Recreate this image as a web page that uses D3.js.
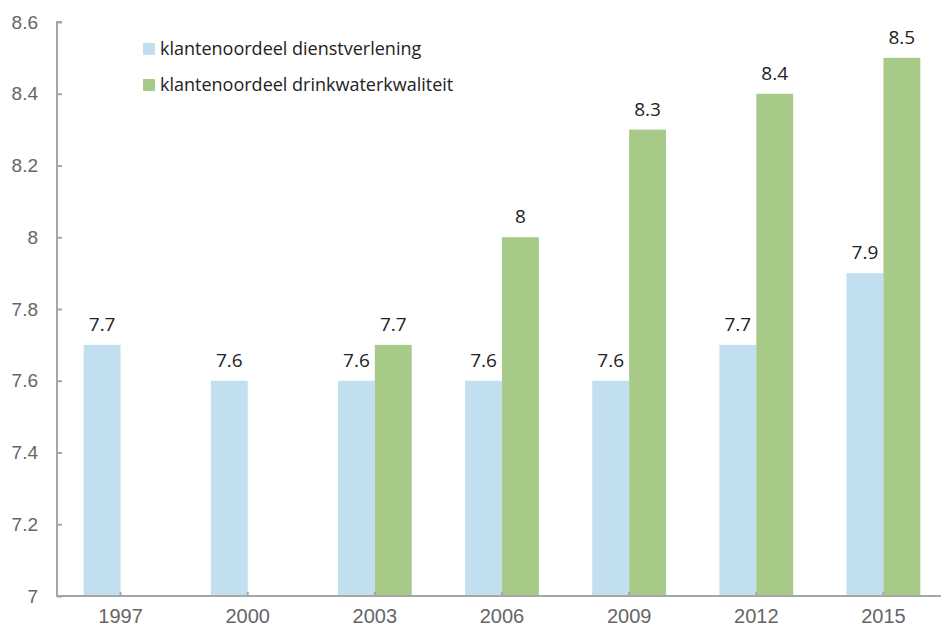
<!DOCTYPE html>
<html>
<head>
<meta charset="utf-8">
<script src="https://cdn.jsdelivr.net/npm/d3@7"></script>
<style>
  body { margin: 0; background: #fff; }
</style>
</head>
<body>
<svg id="viz"></svg>
<script>
const years = ['1997', '2000', '2003', '2006', '2009', '2012', '2015']
const dienstverlening = [7.7, 7.6, 7.6, 7.6, 7.6, 7.7, 7.9]
const drinkwater = [null, null, 7.7, 8.0, 8.3, 8.4, 8.5]
const seriesNames = ['klantenoordeel dienstverlening', 'klantenoordeel drinkwaterkwaliteit']
const yTicks = [7, 7.2, 7.4, 7.6, 7.8, 8, 8.2, 8.4, 8.6]

const width = 941
const height = 627
const colors = ['#c2dff0', '#a8ca89']

const svg = d3.select('#viz').attr('width', width).attr('height', height)

const x = d3.scaleBand().domain(years).range([57, 947])
  .paddingInner(0.42).paddingOuter(0.21)
const inner = d3.scaleBand().domain([0, 1]).range([0, x.bandwidth()])
const y = d3.scaleLinear().domain([7, 8.6]).range([596, 22])

// y axis
const yAxis = svg.append('g')
  .attr('transform', 'translate(57,0)')
  .call(d3.axisRight(y).tickValues(yTicks).tickSize(5).tickFormat(d3.format('')))
yAxis.select('.domain').attr('stroke', '#a6a6a6').attr('stroke-width', 2)
  .attr('d', `M5,${y(8.6)}H0V${y(7)}`)
yAxis.selectAll('.tick line').attr('stroke', '#a6a6a6').attr('stroke-width', 2)
yAxis.selectAll('.tick text')
  .attr('x', -19).attr('text-anchor', 'end')
  .attr('font-family', 'Liberation Sans, Arial, sans-serif')
  .attr('font-size', 19).attr('fill', '#666')

// bars
const seriesData = [dienstverlening, drinkwater]
const groups = svg.append('g').selectAll('g')
  .data(years)
  .join('g')
  .attr('transform', (d) => `translate(${x(d)},0)`)

groups.each(function (yr, i) {
  const g = d3.select(this)
  const vals = seriesData.map((s, k) => ({ k, v: s[i] })).filter((d) => d.v != null)
  g.selectAll('rect').data(vals).join('rect')
    .attr('x', (d) => inner(d.k))
    .attr('width', inner.bandwidth())
    .attr('y', (d) => y(d.v))
    .attr('height', (d) => y(7) - y(d.v))
    .attr('fill', (d) => colors[d.k])
  g.selectAll('text').data(vals).join('text')
    .attr('x', (d) => inner(d.k) + inner.bandwidth() / 2)
    .attr('y', (d) => y(d.v) - 14)
    .attr('text-anchor', 'middle')
    .attr('font-family', 'Open Sans, sans-serif')
    .attr('font-size', 19)
    .attr('fill', '#222')
    .text((d) => d3.format('')(d.v))
})

// x axis
const xAxis = svg.append('g')
  .attr('transform', `translate(0,${y(7)})`)
  .call(d3.axisTop(x).tickSize(4).tickSizeOuter(0))
xAxis.select('.domain').attr('stroke', '#a6a6a6').attr('stroke-width', 2)
  .attr('d', `M56,0H${width}`)
xAxis.selectAll('.tick line').attr('stroke', '#a6a6a6').attr('stroke-width', 2)
xAxis.selectAll('.tick text')
  .attr('y', 27)
  .attr('font-family', 'Liberation Sans, Arial, sans-serif')
  .attr('font-size', 20).attr('fill', '#666')

// legend
const legend = svg.append('g').attr('transform', 'translate(143,43)')
const items = legend.selectAll('g').data(seriesNames).join('g')
  .attr('transform', (d, i) => `translate(0,${i * 36})`)
items.append('rect').attr('width', 12).attr('height', 12)
  .attr('fill', (d, i) => colors[i])
items.append('text').attr('x', 17).attr('y', 12)
  .attr('font-family', 'Open Sans, sans-serif')
  .attr('font-size', 18).attr('fill', '#222')
  .text((d) => d)
</script>
</body>
</html>
